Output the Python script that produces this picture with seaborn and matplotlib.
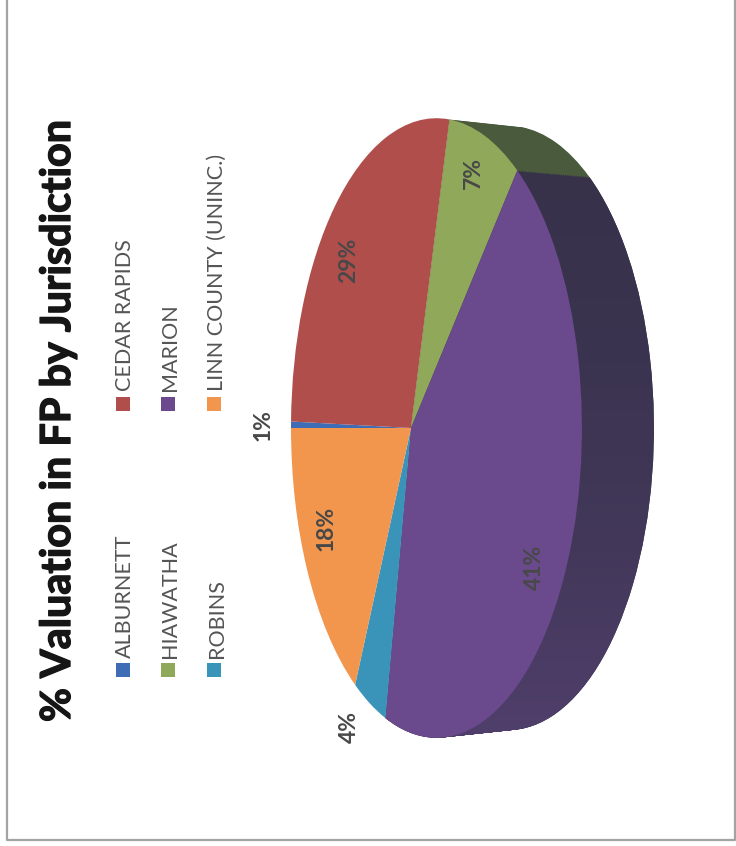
import numpy as np
import matplotlib
matplotlib.use("Agg")
import matplotlib.pyplot as plt
import matplotlib.patheffects as pe
from matplotlib.patches import Rectangle, PathPatch
from matplotlib.path import Path
from matplotlib.transforms import Transform
from matplotlib.colors import LinearSegmentedColormap
import seaborn as sns

# --- data ---
categories = ["ALBURNETT", "CEDAR RAPIDS", "HIAWATHA", "MARION", "ROBINS", "LINN COUNTY (UNINC.)"]
values = [0.4, 28.8, 7.4, 41.4, 4.0, 18.0]
labels = ["1%", "29%", "7%", "41%", "4%", "18%"]
colors = ["#3f6db5", "#b04e4c", "#8fa85a", "#6a4a8c", "#3a93b8", "#f2954d"]
title = "% Valuation in FP by Jurisdiction"

sns.set_theme(style="white")
plt.rcParams["font.family"] = ["Lato", "DejaVu Sans"]


class Persp(Transform):
    """Tilted-disc projection of the unit pie onto the page (rotated scan)."""
    input_dims = output_dims = 2

    def __init__(self, shift=0.0, shrink=1.0):
        super().__init__()
        self.shift, self.shrink = shift, shrink

    def transform_non_affine(self, xy):
        xy = np.asarray(xy, float)
        w = 1 - 0.175 * xy[:, 0]
        return np.column_stack([
            411 + self.shift + 141 * xy[:, 0] / w,
            428 - 305 * self.shrink * xy[:, 1] / w,
        ])


fig = plt.figure(figsize=(7.36, 8.46), dpi=100, facecolor="white")
ax = fig.add_axes([0, 0, 1, 1])

# side wall: the pie swept along the depth direction
marion_paths = []
for t in np.linspace(1, 0, 40):
    tr = Persp(72 * t, 1 - 0.025 * t)
    wedges, _ = ax.pie(values, startangle=180, counterclock=False,
                       colors=["none", "none", "#4a5a3d", "#3a334d", "none", "none"])
    for w in wedges:
        w.set_transform(tr + ax.transData)
        w.set_linewidth(0)
        w.set_zorder(1)
    marion_paths.append(tr.transform_path(wedges[3].get_path()))

# top face
wedges, _ = ax.pie(values, startangle=180, counterclock=False, colors=colors)
for w in wedges:
    w.set_transform(Persp() + ax.transData)
    w.set_linewidth(0)
    w.set_zorder(3)

# wall shading on the purple part
cmap = LinearSegmentedColormap.from_list("wall", ["#37314a", "#3b3450", "#43385a", "#503f6c"])
im = ax.imshow(np.linspace(0, 1, 256)[:, None], cmap=cmap, extent=(0, 736, 745, 170),
               aspect="auto", zorder=2)
im.set_clip_path(PathPatch(Path.make_compound_path(*marion_paths), transform=ax.transData))

ax.set_aspect("auto")
ax.set_xlim(0, 736)
ax.set_ylim(846, 0)
ax.axis("off")

# frame of the scanned page
ax.plot([7, 7, 735, 735], [0, 840, 840, 0], color="#a3a3a3", lw=1.6, zorder=5, clip_on=False)

# title
ax.text(70, 722, title, rotation=90, ha="left", va="baseline", fontsize=29.8,
        fontweight="bold", color="#161616", rotation_mode="anchor",
        path_effects=[pe.withStroke(linewidth=1.0, foreground="#161616")])

# legend
leg_x = [123, 123, 168, 168, 214, 214]
text_x = [131, 131, 176, 176, 223, 223]
swatch_y = [670.5, 404, 670.5, 404, 670.5, 404]
for name, col, x, tx, y in zip(categories, colors, leg_x, text_x, swatch_y):
    ax.add_patch(Rectangle((x - 7, y - 7), 14, 14, color=col, lw=0, zorder=4))
    ax.text(tx, y - 13, name, rotation=90, ha="left", va="baseline", fontsize=15.5,
            color="#555555", rotation_mode="anchor")

# percentage labels
label_x = [263, 349, 473, 534, 349, 326]
label_y = [425, 260, 173, 567, 727, 528]
for lab, x, y in zip(labels, label_x, label_y):
    ax.text(x, y, lab, rotation=90, ha="center", va="center", fontsize=16.5,
            fontweight="bold", color="#484848", zorder=6)

fig.savefig("out.png", dpi=100, facecolor="white")
